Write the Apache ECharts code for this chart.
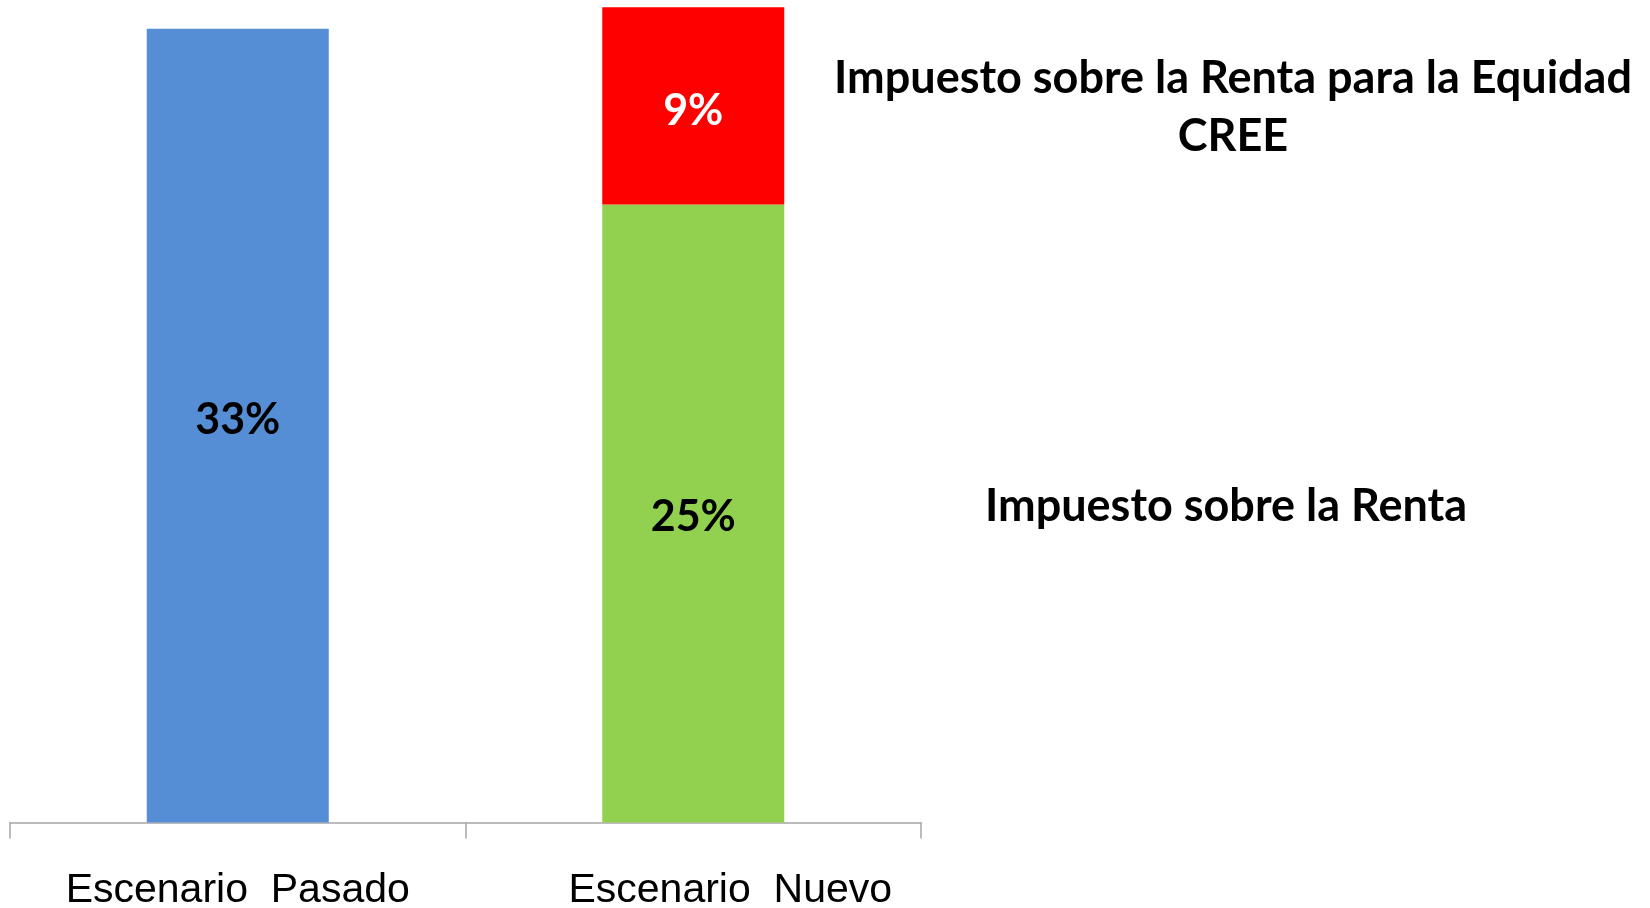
<!DOCTYPE html>
<html>
<head>
<meta charset="utf-8">
<script src="https://cdn.jsdelivr.net/npm/echarts@6/dist/echarts.min.js"></script>
<style>
html, body { margin: 0; padding: 0; background: #fff; }
#main { width: 1650px; height: 908px; }
</style>
</head>
<body>
<div id="main"></div>
<script>
// categorias y valores
var categories = ['Escenario  Pasado', 'Escenario  Nuevo'];
var pasadoVals = [33, '-'];
var rentaVals = ['-', 25.7];
var creeVals = ['-', 8.2];
var pasadoLabels = ['33%', ''];
var rentaLabels = ['', '25%'];
var creeLabels = ['', '9%'];
var rentaName = 'Impuesto sobre la Renta';
var creeName = 'Impuesto sobre la Renta para la Equidad\nCREE';

var chart = echarts.init(document.getElementById('main'));

function barLabel(arr, color, dy) {
    return {
        show: true,
        position: 'inside',
        offset: [0, dy],
        color: color,
        fontFamily: 'Lato',
        fontWeight: 'bold',
        fontSize: 43,
        formatter: function (p) {
            return arr[p.dataIndex];
        }
    };
}

var option = {
    animation: false,
    backgroundColor: '#fff',
    grid: {
        left: 10,
        right: 729,
        top: 0,
        bottom: 85.5,
        containLabel: false,
        outerBoundsMode: 'none'
    },
    xAxis: {
        type: 'category',
        data: categories,
        axisLine: { lineStyle: { color: '#a6a6a6', width: 1.5 } },
        axisTick: { show: true, length: 16, lineStyle: { color: '#a6a6a6', width: 1.5 } },
        axisLabel: {
            interval: 0,
            hideOverlap: false,
            margin: 48,
            color: '#000',
            fontFamily: 'Liberation Sans',
            fontSize: 41,
            formatter: function (v, i) {
                return i === 1 ? '{n|' + v + '}' : v;
            },
            rich: {
                n: {
                    color: '#000',
                    fontFamily: 'Liberation Sans',
                    fontSize: 41,
                    padding: [0, 0, 0, 74]
                }
            }
        }
    },
    yAxis: {
        type: 'value',
        min: 0,
        max: 34.2,
        show: false,
        splitLine: { show: false }
    },
    series: [{
        name: 'Pasado',
        type: 'bar',
        stack: 'total',
        barWidth: 182,
        data: pasadoVals,
        itemStyle: { color: '#558ed5' },
        label: barLabel(pasadoLabels, '#000', -6)
    }, {
        name: rentaName,
        type: 'bar',
        stack: 'total',
        barWidth: 182,
        data: rentaVals,
        itemStyle: { color: '#92d050' },
        label: barLabel(rentaLabels, '#000', 4)
    }, {
        name: creeName,
        type: 'bar',
        stack: 'total',
        barWidth: 182,
        data: creeVals,
        itemStyle: { color: '#ff0000' },
        label: barLabel(creeLabels, '#fff', 5)
    }]
};
chart.setOption(option);

// nombres de las series a la derecha, alineados con cada segmento
var yRenta = chart.convertToPixel({ gridIndex: 0 }, [1, rentaVals[1] / 2])[1];
var yCree = chart.convertToPixel({ gridIndex: 0 }, [1, rentaVals[1] + creeVals[1] / 2])[1];

function sideText(txt, x, y) {
    return {
        type: 'text',
        x: x,
        y: y,
        style: {
            text: txt,
            fill: '#000',
            font: 'bold 45px Lato',
            align: 'center',
            verticalAlign: 'middle',
            lineHeight: 58
        }
    };
}

chart.setOption({
    graphic: [
        sideText(creeName, 1233, yCree + 2),
        sideText(rentaName, 1226, yRenta - 7)
    ]
});
</script>
</body>
</html>
